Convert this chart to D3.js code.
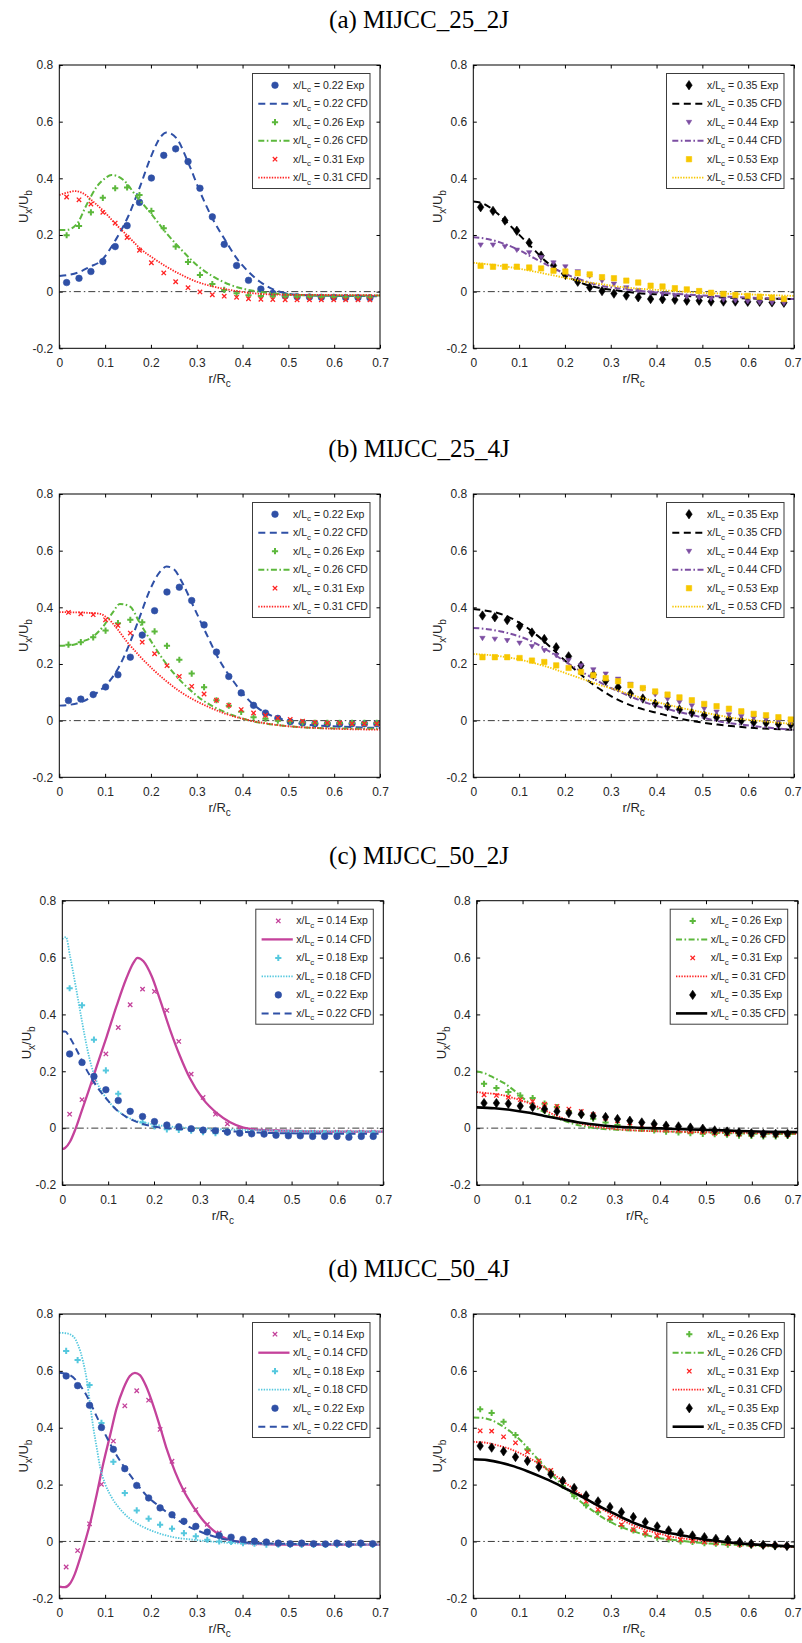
<!DOCTYPE html>
<html>
<head>
<meta charset="utf-8">
<script src="https://cdn.jsdelivr.net/npm/d3@7"></script>
<style>
  html, body { margin: 0; padding: 0; background: #fff; }
  svg { display: block; }
</style>
</head>
<body>
<svg id="fig" width="802" height="1643"></svg>
<script>
// ---------- axis ticks ----------
const xTicks = [0, 0.1, 0.2, 0.3, 0.4, 0.5, 0.6, 0.7];
const yTicks = [-0.2, 0, 0.2, 0.4, 0.6, 0.8];

// ---------- titles ----------
const rowTitles = ["(a) MIJCC_25_2J", "(b) MIJCC_25_4J", "(c) MIJCC_50_2J", "(d) MIJCC_50_4J"];

// ---------- measurement radii r/Rc ----------
const rGridA = [0.016, 0.043, 0.069, 0.095, 0.122, 0.148, 0.175, 0.201, 0.228, 0.254, 0.281, 0.307, 0.334,
                0.360, 0.387, 0.413, 0.440, 0.466, 0.493, 0.519, 0.546, 0.572, 0.599, 0.625, 0.652, 0.678];
const rGridB = [0.020, 0.047, 0.074, 0.101, 0.128, 0.155, 0.181, 0.208, 0.235, 0.262, 0.289, 0.316, 0.343,
                0.370, 0.397, 0.424, 0.450, 0.477, 0.504, 0.531, 0.558, 0.585, 0.612, 0.639, 0.666, 0.693];
const rGridD = [0.015, 0.040, 0.066, 0.092, 0.118, 0.143, 0.169, 0.195, 0.220, 0.246, 0.272, 0.298, 0.323, 0.349,
                0.375, 0.401, 0.426, 0.452, 0.478, 0.504, 0.529, 0.555, 0.581, 0.606, 0.632, 0.658, 0.684];

// ---------- (a) MIJCC_25_2J ----------
const a1Exp022 = [0.032, 0.047, 0.071, 0.106, 0.159, 0.233, 0.315, 0.401, 0.481, 0.504, 0.459, 0.365, 0.264,
                  0.167, 0.092, 0.040, 0.009, -0.006, -0.015, -0.018, -0.019, -0.020, -0.020, -0.021, -0.021, -0.022];
const a1Exp026 = [0.199, 0.232, 0.280, 0.331, 0.365, 0.368, 0.341, 0.285, 0.224, 0.159, 0.105, 0.059, 0.027,
                  0.006, -0.006, -0.013, -0.015, -0.016, -0.017, -0.018, -0.018, -0.019, -0.019, -0.020, -0.020, -0.020];
const a1Exp031 = [0.334, 0.324, 0.309, 0.280, 0.242, 0.191, 0.146, 0.102, 0.066, 0.035, 0.014, -0.001, -0.011,
                  -0.016, -0.020, -0.025, -0.027, -0.028, -0.029, -0.029, -0.029, -0.029, -0.029, -0.029, -0.029, -0.029];
const a1Cfd022 = [[0,0.055],[0.045,0.070],[0.067,0.088],[0.089,0.106],[0.125,0.188],[0.151,0.268],[0.176,0.370],
                  [0.200,0.476],[0.222,0.548],[0.234,0.562],[0.256,0.541],[0.282,0.453],[0.307,0.353],[0.336,0.253],
                  [0.362,0.182],[0.387,0.118],[0.413,0.070],[0.438,0.035],[0.467,0.008],[0.496,-0.006],[0.525,-0.012],
                  [0.600,-0.015],[0.700,-0.016]];
const a1Cfd026 = [[0,0.218],[0.016,0.218],[0.038,0.238],[0.060,0.308],[0.082,0.371],[0.100,0.400],[0.114,0.412],
                  [0.140,0.394],[0.169,0.335],[0.200,0.276],[0.234,0.206],[0.267,0.147],[0.300,0.094],[0.336,0.053],
                  [0.373,0.024],[0.413,0.006],[0.453,-0.004],[0.504,-0.011],[0.600,-0.014],[0.700,-0.014]];
const a1Cfd031 = [[0,0.341],[0.016,0.349],[0.034,0.355],[0.052,0.347],[0.074,0.318],[0.100,0.279],[0.125,0.235],
                  [0.151,0.194],[0.176,0.153],[0.205,0.118],[0.234,0.088],[0.267,0.059],[0.300,0.035],[0.336,0.018],
                  [0.380,0.004],[0.424,-0.006],[0.490,-0.011],[0.600,-0.012],[0.700,-0.013]];

const a2Exp035 = [0.298, 0.285, 0.251, 0.215, 0.173, 0.127, 0.092, 0.059, 0.035, 0.015, 0.002, -0.007, -0.014,
                  -0.020, -0.026, -0.027, -0.029, -0.032, -0.032, -0.035, -0.035, -0.035, -0.036, -0.036, -0.038, -0.039];
const a2Exp044 = [0.165, 0.165, 0.159, 0.147, 0.138, 0.121, 0.102, 0.088, 0.071, 0.055, 0.038, 0.027, 0.014,
                  0.004, -0.004, -0.008, -0.013, -0.018, -0.021, -0.025, -0.029, -0.032, -0.035, -0.038, -0.039, -0.041];
const a2Exp053 = [0.091, 0.088, 0.088, 0.088, 0.085, 0.082, 0.074, 0.071, 0.065, 0.061, 0.051, 0.047, 0.039,
                  0.032, 0.021, 0.018, 0.012, 0.008, 0.002, -0.004, -0.008, -0.012, -0.015, -0.018, -0.021, -0.026];
const a2Cfd035 = [[0,0.318],[0.017,0.314],[0.039,0.294],[0.068,0.253],[0.097,0.206],[0.126,0.159],[0.155,0.112],
                  [0.184,0.074],[0.213,0.047],[0.242,0.027],[0.278,0.012],[0.315,0.004],[0.351,-0.004],[0.395,-0.009],
                  [0.460,-0.015],[0.533,-0.020],[0.605,-0.024],[0.700,-0.026]];
const a2Cfd044 = [[0,0.192],[0.024,0.188],[0.060,0.173],[0.097,0.149],[0.133,0.118],[0.169,0.088],[0.206,0.059],
                  [0.242,0.038],[0.278,0.021],[0.315,0.012],[0.366,0.002],[0.424,-0.006],[0.496,-0.013],[0.569,-0.019],
                  [0.700,-0.026]];
const a2Cfd053 = [[0,0.102],[0.024,0.098],[0.060,0.091],[0.097,0.082],[0.133,0.071],[0.169,0.059],[0.206,0.047],
                  [0.242,0.035],[0.278,0.027],[0.315,0.018],[0.351,0.012],[0.424,0.004],[0.496,-0.004],[0.569,-0.008],
                  [0.700,-0.015]];

// ---------- (b) MIJCC_25_4J ----------
const b1Exp022 = [0.071, 0.076, 0.092, 0.119, 0.162, 0.224, 0.302, 0.388, 0.454, 0.471, 0.424, 0.338, 0.242,
                  0.156, 0.098, 0.054, 0.027, 0.008, -0.004, -0.008, -0.011, -0.012, -0.012, -0.011, -0.011, -0.011];
const b1Exp026 = [0.268, 0.277, 0.294, 0.318, 0.344, 0.356, 0.347, 0.315, 0.264, 0.215, 0.166, 0.118, 0.072,
                  0.053, 0.031, 0.012, 0.007, 0.000, -0.002, -0.006, -0.008, -0.008, -0.008, -0.008, -0.008, -0.008];
const b1Exp031 = [0.382, 0.377, 0.374, 0.356, 0.336, 0.309, 0.277, 0.236, 0.194, 0.156, 0.121, 0.094, 0.072,
                  0.054, 0.039, 0.027, 0.019, 0.009, 0.004, -0.002, -0.006, -0.008, -0.008, -0.011, -0.011, -0.011];
const b1Cfd022 = [[0,0.053],[0.023,0.056],[0.052,0.068],[0.082,0.098],[0.103,0.127],[0.129,0.186],[0.154,0.274],
                  [0.176,0.368],[0.198,0.462],[0.220,0.526],[0.234,0.544],[0.249,0.536],[0.271,0.479],[0.293,0.403],
                  [0.322,0.303],[0.351,0.209],[0.380,0.139],[0.409,0.080],[0.438,0.039],[0.467,0.015],[0.503,-0.002],
                  [0.540,-0.014],[0.598,-0.020],[0.700,-0.026]];
const b1Cfd026 = [[0,0.264],[0.031,0.268],[0.052,0.280],[0.074,0.297],[0.096,0.333],[0.118,0.385],[0.132,0.412],
                  [0.154,0.403],[0.176,0.344],[0.198,0.286],[0.227,0.215],[0.256,0.156],[0.285,0.109],[0.314,0.071],
                  [0.344,0.043],[0.380,0.018],[0.416,0.000],[0.453,-0.011],[0.503,-0.020],[0.562,-0.026],[0.700,-0.029]];
const b1Cfd031 = [[0,0.383],[0.038,0.382],[0.067,0.380],[0.089,0.377],[0.103,0.365],[0.125,0.327],[0.147,0.280],
                  [0.176,0.227],[0.205,0.180],[0.234,0.139],[0.263,0.103],[0.293,0.074],[0.322,0.051],[0.358,0.027],
                  [0.394,0.009],[0.438,-0.006],[0.489,-0.018],[0.562,-0.026],[0.700,-0.032]];

const b2Exp035 = [0.371, 0.365, 0.355, 0.333, 0.311, 0.288, 0.259, 0.227, 0.194, 0.162, 0.141, 0.118, 0.095,
                  0.078, 0.060, 0.051, 0.039, 0.027, 0.019, 0.012, 0.006, 0.000, -0.006, -0.008, -0.012, -0.014];
const b2Exp044 = [0.291, 0.288, 0.283, 0.274, 0.262, 0.248, 0.230, 0.213, 0.194, 0.180, 0.165, 0.147, 0.129,
                  0.112, 0.092, 0.076, 0.065, 0.053, 0.042, 0.031, 0.021, 0.015, 0.009, 0.004, -0.002, -0.006];
const b2Exp053 = [0.224, 0.224, 0.224, 0.221, 0.212, 0.207, 0.195, 0.186, 0.172, 0.160, 0.150, 0.139, 0.125,
                  0.115, 0.103, 0.092, 0.082, 0.072, 0.059, 0.051, 0.042, 0.033, 0.024, 0.019, 0.012, 0.004];
const b2Cfd035 = [[0,0.394],[0.024,0.389],[0.053,0.380],[0.082,0.362],[0.111,0.335],[0.140,0.300],[0.169,0.259],
                  [0.198,0.215],[0.228,0.172],[0.257,0.133],[0.286,0.101],[0.315,0.074],[0.344,0.054],[0.373,0.039],
                  [0.402,0.027],[0.431,0.015],[0.460,0.004],[0.496,-0.006],[0.533,-0.014],[0.569,-0.020],[0.613,-0.026],
                  [0.700,-0.032]];
const b2Cfd044 = [[0,0.327],[0.031,0.323],[0.060,0.315],[0.089,0.303],[0.119,0.286],[0.148,0.262],[0.177,0.233],
                  [0.206,0.203],[0.235,0.174],[0.264,0.147],[0.293,0.121],[0.322,0.100],[0.351,0.080],[0.380,0.062],
                  [0.409,0.048],[0.438,0.035],[0.475,0.021],[0.511,0.007],[0.547,-0.006],[0.584,-0.014],[0.627,-0.022],
                  [0.700,-0.032]];
const b2Cfd053 = [[0,0.235],[0.024,0.233],[0.060,0.227],[0.097,0.217],[0.133,0.203],[0.169,0.186],[0.206,0.165],
                  [0.242,0.145],[0.278,0.125],[0.315,0.107],[0.351,0.088],[0.387,0.072],[0.424,0.056],[0.460,0.043],
                  [0.496,0.031],[0.533,0.019],[0.569,0.009],[0.613,0.001],[0.656,-0.006],[0.700,-0.012]];

// ---------- (c) MIJCC_50_2J ----------
const c1Exp014 = [0.049, 0.100, 0.162, 0.261, 0.354, 0.434, 0.489, 0.481, 0.414, 0.305, 0.190, 0.108, 0.049,
                  0.015, -0.003, -0.008, -0.010, -0.012, -0.013, -0.014, -0.014, -0.014, -0.014, -0.014, -0.014, -0.014];
const c1Exp018 = [0.492, 0.432, 0.311, 0.203, 0.121, 0.060, 0.020, 0.006, -0.004, -0.006, -0.009, -0.014, -0.018,
                  -0.016, -0.016, -0.017, -0.017, -0.018, -0.018, -0.018, -0.018, -0.018, -0.018, -0.018, -0.018, -0.018];
const c1Exp022 = [0.261, 0.231, 0.182, 0.135, 0.097, 0.059, 0.041, 0.023, 0.011, 0.005, -0.002, -0.007, -0.009,
                  -0.014, -0.018, -0.020, -0.021, -0.025, -0.027, -0.027, -0.029, -0.029, -0.029, -0.032, -0.029, -0.029];
const c1Cfd014 = [[0,-0.074],[0.006,-0.070],[0.017,-0.047],[0.028,-0.006],[0.042,0.059],[0.057,0.129],[0.075,0.217],
                  [0.097,0.323],[0.118,0.428],[0.140,0.528],[0.155,0.581],[0.164,0.599],[0.177,0.587],[0.195,0.534],
                  [0.213,0.452],[0.235,0.346],[0.257,0.252],[0.278,0.176],[0.307,0.102],[0.337,0.053],[0.366,0.021],
                  [0.395,0.002],[0.431,-0.006],[0.482,-0.009],[0.555,-0.012],[0.700,-0.012]];
const c1Cfd018 = [[0,0.665],[0.008,0.672],[0.017,0.604],[0.028,0.510],[0.039,0.411],[0.049,0.323],[0.060,0.240],
                  [0.075,0.164],[0.093,0.112],[0.111,0.076],[0.133,0.047],[0.155,0.029],[0.184,0.018],[0.220,0.008],
                  [0.264,0.002],[0.315,-0.002],[0.387,-0.006],[0.700,-0.012]];
const c1Cfd022 = [[0,0.340],[0.006,0.340],[0.017,0.317],[0.031,0.276],[0.053,0.205],[0.075,0.147],[0.097,0.102],
                  [0.118,0.065],[0.140,0.039],[0.169,0.018],[0.198,0.006],[0.242,-0.002],[0.300,-0.006],[0.373,-0.012],
                  [0.482,-0.018],[0.700,-0.020]];

const c2Exp026 = [0.156, 0.141, 0.127, 0.115, 0.106, 0.086, 0.074, 0.059, 0.047, 0.033, 0.020, 0.011, 0.004,
                  -0.002, -0.008, -0.012, -0.015, -0.018, -0.020, -0.021, -0.023, -0.026, -0.027, -0.029, -0.029, -0.027];
const c2Exp031 = [0.117, 0.115, 0.109, 0.100, 0.094, 0.084, 0.076, 0.067, 0.059, 0.047, 0.035, 0.026, 0.018,
                  0.009, 0.002, -0.002, -0.006, -0.012, -0.014, -0.018, -0.020, -0.021, -0.021, -0.023, -0.023, -0.023];
const c2Exp035 = [0.088, 0.088, 0.086, 0.078, 0.074, 0.067, 0.059, 0.053, 0.049, 0.043, 0.039, 0.032, 0.026,
                  0.020, 0.015, 0.009, 0.006, 0.002, -0.002, -0.008, -0.012, -0.015, -0.018, -0.020, -0.020, -0.020];
const c2Cfd026 = [[0,0.199],[0.017,0.193],[0.039,0.176],[0.060,0.158],[0.082,0.132],[0.104,0.102],[0.126,0.076],
                  [0.148,0.055],[0.169,0.039],[0.191,0.026],[0.213,0.014],[0.242,0.004],[0.271,-0.002],[0.307,-0.006],
                  [0.358,-0.009],[0.417,-0.012],[0.489,-0.015],[0.562,-0.018],[0.700,-0.021]];
const c2Cfd031 = [[0,0.127],[0.024,0.123],[0.053,0.117],[0.082,0.105],[0.111,0.090],[0.140,0.070],[0.169,0.047],
                  [0.198,0.029],[0.228,0.015],[0.257,0.006],[0.293,-0.002],[0.344,-0.008],[0.417,-0.012],[0.526,-0.015],
                  [0.700,-0.020]];
const c2Cfd035 = [[0,0.073],[0.039,0.070],[0.075,0.064],[0.111,0.055],[0.148,0.043],[0.184,0.032],[0.220,0.021],
                  [0.257,0.013],[0.300,0.006],[0.344,0.002],[0.402,-0.001],[0.467,-0.005],[0.540,-0.008],[0.613,-0.012],
                  [0.700,-0.014]];

// ---------- (d) MIJCC_50_4J ----------
const d1Exp014 = [-0.090, -0.032, 0.062, 0.201, 0.353, 0.477, 0.530, 0.497, 0.394, 0.282, 0.182, 0.112, 0.060, 0.030,
                  0.010, -0.002, -0.006, -0.008, -0.009, -0.010, -0.010, -0.010, -0.010, -0.009, -0.009, -0.008, -0.008];
const d1Exp018 = [0.670, 0.638, 0.550, 0.417, 0.280, 0.170, 0.109, 0.080, 0.059, 0.045, 0.029, 0.018, 0.006, 0.000,
                  -0.002, -0.006, -0.008, -0.011, -0.011, -0.012, -0.012, -0.012, -0.012, -0.012, -0.012, -0.012, -0.012];
const d1Exp022 = [0.582, 0.548, 0.479, 0.401, 0.324, 0.256, 0.197, 0.153, 0.118, 0.094, 0.071, 0.053, 0.033, 0.021,
                  0.015, 0.007, 0.001, -0.002, -0.006, -0.008, -0.006, -0.008, -0.009, -0.006, -0.009, -0.006, -0.008];
const d1Cfd014 = [[0,-0.159],[0.012,-0.161],[0.023,-0.149],[0.034,-0.114],[0.045,-0.061],[0.056,-0.002],[0.067,0.062],
                  [0.082,0.168],[0.096,0.274],[0.111,0.374],[0.125,0.468],[0.140,0.538],[0.154,0.582],[0.165,0.593],
                  [0.176,0.585],[0.190,0.544],[0.205,0.479],[0.220,0.403],[0.234,0.327],[0.253,0.244],[0.271,0.180],
                  [0.293,0.121],[0.314,0.074],[0.336,0.039],[0.358,0.015],[0.387,0.000],[0.424,-0.008],[0.489,-0.011],
                  [0.700,-0.011]];
const d1Cfd018 = [[0,0.734],[0.016,0.732],[0.031,0.720],[0.041,0.691],[0.052,0.632],[0.060,0.568],[0.067,0.485],
                  [0.074,0.403],[0.082,0.327],[0.089,0.262],[0.100,0.203],[0.114,0.156],[0.132,0.115],[0.154,0.080],
                  [0.183,0.051],[0.213,0.031],[0.249,0.015],[0.293,0.006],[0.344,-0.002],[0.416,-0.008],[0.700,-0.011]];
const d1Cfd022 = [[0,0.593],[0.023,0.585],[0.045,0.550],[0.063,0.503],[0.082,0.438],[0.103,0.368],[0.125,0.303],
                  [0.147,0.250],[0.169,0.203],[0.190,0.162],[0.220,0.121],[0.249,0.086],[0.278,0.056],[0.307,0.035],
                  [0.336,0.018],[0.373,0.004],[0.416,-0.005],[0.489,-0.008],[0.700,-0.011]];

const d2Exp026 = [0.465, 0.452, 0.421, 0.374, 0.324, 0.280, 0.245, 0.195, 0.159, 0.127, 0.103, 0.076, 0.054, 0.039,
                  0.025, 0.013, 0.007, 0.000, -0.002, -0.006, -0.008, -0.011, -0.012, -0.014, -0.016, -0.018, -0.018];
const d2Exp031 = [0.389, 0.388, 0.368, 0.347, 0.315, 0.283, 0.250, 0.213, 0.177, 0.141, 0.112, 0.083, 0.059, 0.041,
                  0.029, 0.020, 0.012, 0.006, 0.001, -0.002, -0.006, -0.008, -0.011, -0.012, -0.014, -0.014, -0.016];
const d2Exp035 = [0.336, 0.330, 0.317, 0.297, 0.283, 0.262, 0.236, 0.213, 0.188, 0.162, 0.141, 0.121, 0.103, 0.086,
                  0.068, 0.053, 0.039, 0.031, 0.021, 0.015, 0.009, 0.006, -0.002, -0.008, -0.012, -0.014, -0.016];
const d2Cfd026 = [[0,0.436],[0.017,0.435],[0.039,0.427],[0.060,0.409],[0.082,0.385],[0.104,0.354],[0.126,0.315],
                  [0.148,0.276],[0.169,0.239],[0.191,0.203],[0.213,0.170],[0.235,0.139],[0.257,0.112],[0.278,0.088],
                  [0.307,0.062],[0.337,0.042],[0.366,0.027],[0.402,0.013],[0.446,0.004],[0.496,-0.005],[0.569,-0.012],
                  [0.700,-0.020]];
const d2Cfd031 = [[0,0.350],[0.024,0.348],[0.053,0.338],[0.082,0.324],[0.111,0.303],[0.140,0.276],[0.169,0.244],
                  [0.198,0.209],[0.228,0.174],[0.257,0.139],[0.286,0.109],[0.315,0.083],[0.344,0.060],[0.373,0.042],
                  [0.402,0.029],[0.438,0.015],[0.482,0.006],[0.533,-0.002],[0.605,-0.011],[0.700,-0.020]];
const d2Cfd035 = [[0,0.289],[0.031,0.286],[0.060,0.277],[0.089,0.264],[0.118,0.247],[0.148,0.227],[0.177,0.206],
                  [0.206,0.182],[0.235,0.159],[0.264,0.133],[0.293,0.109],[0.322,0.086],[0.351,0.065],[0.380,0.048],
                  [0.409,0.035],[0.446,0.024],[0.482,0.013],[0.518,0.004],[0.569,-0.005],[0.627,-0.012],[0.700,-0.018]];

// ---------- styling ----------
const COLORS = {
  blue: "#2f50a6", green: "#5cb83c", red: "#ff2424", black: "#000000",
  purple: "#7c4ea2", yellow: "#f7c700", magenta: "#c4429b", cyan: "#55c8de"
};
const LINE_STYLES = {
  dashed:  { width: 2.0, dash: "7,4.5" },
  dashdot: { width: 2.0, dash: "6,2.5,1.6,2.5" },
  dotted:  { width: 1.8, dash: "1.4,1.3" },
  solid:   { width: 2.3, dash: null },
  solidBold: { width: 2.6, dash: null }
};
const MARKERS = {
  circle:  { d: "M3.3,0A3.3,3.3,0,1,1,-3.3,0A3.3,3.3,0,1,1,3.3,0Z", fill: true },
  plus:    { d: "M-3.1,0H3.1M0,-3.1V3.1", fill: false, width: 2.0 },
  cross:   { d: "M-2.2,-2.2L2.2,2.2M-2.2,2.2L2.2,-2.2", fill: false, width: 1.3 },
  diamond: { d: "M0,-4.7L3.2,0L0,4.7L-3.2,0Z", fill: true },
  tri:     { d: "M-2.7,-1.9L2.7,-1.9L0,2.5Z", fill: true },
  square:  { d: "M-2.7,-2.7H2.7V2.7H-2.7Z", fill: true }
};

// ---------- panel frames ----------
const W = 802;
const frames = [
  { key: "a1", left: 59.3,  right: 380,   top: 65,    bottom: 348.3 },
  { key: "a2", left: 473.3, right: 794,   top: 65,    bottom: 348.3 },
  { key: "b1", left: 59.3,  right: 380,   top: 494,   bottom: 777.3 },
  { key: "b2", left: 473.3, right: 794,   top: 494,   bottom: 777.3 },
  { key: "c1", left: 62.3,  right: 383.3, top: 900.7, bottom: 1185 },
  { key: "c2", left: 476.7, right: 797.7, top: 900.7, bottom: 1185 },
  { key: "d1", left: 59.3,  right: 380,   top: 1314,  bottom: 1598.3 },
  { key: "d2", left: 473.3, right: 794.3, top: 1314,  bottom: 1598.3 }
];

const exp = (station, r, u, color, marker) => ({ kind: "exp", station, r, u, color, marker });
const cfd = (station, pts, color, style) => ({ kind: "cfd", station, pts, color, style });

const panelSeries = {
  a1: [exp("0.22", rGridA, a1Exp022, "blue", "circle"), cfd("0.22", a1Cfd022, "blue", "dashed"),
       exp("0.26", rGridA, a1Exp026, "green", "plus"),  cfd("0.26", a1Cfd026, "green", "dashdot"),
       exp("0.31", rGridA, a1Exp031, "red", "cross"),   cfd("0.31", a1Cfd031, "red", "dotted")],
  a2: [exp("0.35", rGridA, a2Exp035, "black", "diamond"), cfd("0.35", a2Cfd035, "black", "dashed"),
       exp("0.44", rGridA, a2Exp044, "purple", "tri"),    cfd("0.44", a2Cfd044, "purple", "dashdot"),
       exp("0.53", rGridA, a2Exp053, "yellow", "square"), cfd("0.53", a2Cfd053, "yellow", "dotted")],
  b1: [exp("0.22", rGridB, b1Exp022, "blue", "circle"), cfd("0.22", b1Cfd022, "blue", "dashed"),
       exp("0.26", rGridB, b1Exp026, "green", "plus"),  cfd("0.26", b1Cfd026, "green", "dashdot"),
       exp("0.31", rGridB, b1Exp031, "red", "cross"),   cfd("0.31", b1Cfd031, "red", "dotted")],
  b2: [exp("0.35", rGridB, b2Exp035, "black", "diamond"), cfd("0.35", b2Cfd035, "black", "dashed"),
       exp("0.44", rGridB, b2Exp044, "purple", "tri"),    cfd("0.44", b2Cfd044, "purple", "dashdot"),
       exp("0.53", rGridB, b2Exp053, "yellow", "square"), cfd("0.53", b2Cfd053, "yellow", "dotted")],
  c1: [exp("0.14", rGridA, c1Exp014, "magenta", "cross"), cfd("0.14", c1Cfd014, "magenta", "solid"),
       exp("0.18", rGridA, c1Exp018, "cyan", "plus"),     cfd("0.18", c1Cfd018, "cyan", "dotted"),
       exp("0.22", rGridA, c1Exp022, "blue", "circle"),   cfd("0.22", c1Cfd022, "blue", "dashed")],
  c2: [exp("0.26", rGridA, c2Exp026, "green", "plus"),    cfd("0.26", c2Cfd026, "green", "dashdot"),
       exp("0.31", rGridA, c2Exp031, "red", "cross"),     cfd("0.31", c2Cfd031, "red", "dotted"),
       exp("0.35", rGridA, c2Exp035, "black", "diamond"), cfd("0.35", c2Cfd035, "black", "solidBold")],
  d1: [exp("0.14", rGridD, d1Exp014, "magenta", "cross"), cfd("0.14", d1Cfd014, "magenta", "solid"),
       exp("0.18", rGridD, d1Exp018, "cyan", "plus"),     cfd("0.18", d1Cfd018, "cyan", "dotted"),
       exp("0.22", rGridD, d1Exp022, "blue", "circle"),   cfd("0.22", d1Cfd022, "blue", "dashed")],
  d2: [exp("0.26", rGridD, d2Exp026, "green", "plus"),    cfd("0.26", d2Cfd026, "green", "dashdot"),
       exp("0.31", rGridD, d2Exp031, "red", "cross"),     cfd("0.31", d2Cfd031, "red", "dotted"),
       exp("0.35", rGridD, d2Exp035, "black", "diamond"), cfd("0.35", d2Cfd035, "black", "solidBold")]
};

// ---------- drawing ----------
const SANS = "'Liberation Sans', Arial, Helvetica, sans-serif";
const SERIF = "'Liberation Serif', 'Times New Roman', Times, serif";
const TXT = "#262626";
const svg = d3.select("#fig");
svg.append("rect").attr("width", W).attr("height", 1643).attr("fill", "#fff");
const defs = svg.append("defs");

const tickFmt = d => String(Math.round(d * 10) / 10);

function drawMarker(sel, kind, color) {
  const m = MARKERS[kind];
  sel.attr("d", m.d)
     .attr("fill", m.fill ? color : "none")
     .attr("stroke", color)
     .attr("stroke-width", m.fill ? 0.6 : m.width);
}

function styleLine(sel, style, color) {
  const s = LINE_STYLES[style];
  sel.attr("fill", "none").attr("stroke", color).attr("stroke-width", s.width);
  if (s.dash) sel.attr("stroke-dasharray", s.dash);
}

function drawPanel(f) {
  const x = d3.scaleLinear().domain([0, 0.7]).range([f.left, f.right]);
  const y = d3.scaleLinear().domain([-0.2, 0.8]).range([f.bottom, f.top]);
  const g = svg.append("g").attr("class", "panel-" + f.key);

  defs.append("clipPath").attr("id", "clip-" + f.key)
    .append("rect").attr("x", f.left).attr("y", f.top)
    .attr("width", f.right - f.left).attr("height", f.bottom - f.top);

  // axes with inward ticks on all four sides
  const styleAxis = a => {
    a.select(".domain").remove();
    a.selectAll(".tick line").attr("stroke", "#000").attr("stroke-width", 1);
    a.selectAll("text").attr("fill", TXT).style("font-family", SANS).style("font-size", "12px");
  };
  const xAxisG = g.append("g").attr("transform", `translate(0,${f.bottom})`)
    .call(d3.axisBottom(x).tickValues(xTicks).tickFormat(tickFmt).tickSize(-3.5).tickPadding(10.5)).call(styleAxis);
  // keep the last tick label inside the page edge
  xAxisG.selectAll(".tick text").each(function (d) {
    const half = this.getComputedTextLength() / 2;
    const over = x(d) + half - (W - 1);
    if (over > 0) d3.select(this).attr("dx", -over);
  });
  g.append("g").attr("transform", `translate(0,${f.top})`)
    .call(d3.axisTop(x).tickValues(xTicks).tickFormat("").tickSize(-3.5)).call(styleAxis);
  g.append("g").attr("transform", `translate(${f.left},0)`)
    .call(d3.axisLeft(y).tickValues(yTicks).tickFormat(tickFmt).tickSize(-3.5).tickPadding(6)).call(styleAxis);
  g.append("g").attr("transform", `translate(${f.right},0)`)
    .call(d3.axisRight(y).tickValues(yTicks).tickFormat("").tickSize(-3.5)).call(styleAxis);

  // axis titles
  const xl = g.append("text").attr("x", (f.left + f.right) / 2).attr("y", f.bottom + 35)
    .attr("text-anchor", "middle").attr("fill", TXT)
    .style("font-family", SANS).style("font-size", "13px");
  xl.append("tspan").text("r/R");
  xl.append("tspan").attr("dy", 4).style("font-size", "10px").text("c");

  const yl = g.append("text")
    .attr("transform", `translate(${f.left - 31},${(f.top + f.bottom) / 2}) rotate(-90)`)
    .attr("text-anchor", "middle").attr("fill", TXT)
    .style("font-family", SANS).style("font-size", "13px");
  yl.append("tspan").text("U");
  yl.append("tspan").attr("dy", 4).style("font-size", "10px").text("x");
  yl.append("tspan").attr("dy", -4).text("/U");
  yl.append("tspan").attr("dy", 4).style("font-size", "10px").text("b");

  const plot = g.append("g").attr("clip-path", `url(#clip-${f.key})`);

  // zero reference line
  plot.append("line")
    .attr("x1", x(0)).attr("x2", x(0.7)).attr("y1", y(0)).attr("y2", y(0))
    .attr("stroke", "#3a3a3a").attr("stroke-width", 1).attr("stroke-dasharray", "7,3,1.5,3");

  const lineGen = d3.line().x(d => x(d[0])).y(d => y(d[1])).curve(d3.curveMonotoneX);

  panelSeries[f.key].forEach(s => {
    const color = COLORS[s.color];
    if (s.kind === "cfd") {
      plot.append("path").datum(s.pts).attr("d", lineGen).call(styleLine, s.style, color);
    } else {
      const pts = s.u.map((v, i) => [s.r[i], v]).filter(p => p[0] !== undefined);
      plot.append("g").selectAll("path").data(pts).join("path")
        .attr("transform", d => `translate(${x(d[0])},${y(d[1])})`)
        .call(drawMarker, s.marker, color);
    }
  });

  // frame
  g.append("rect").attr("x", f.left).attr("y", f.top)
    .attr("width", f.right - f.left).attr("height", f.bottom - f.top)
    .attr("fill", "none").attr("stroke", "#000").attr("stroke-width", 1);

  // legend box in the upper right corner
  const lw = 117.5, lh = 115, rowH = 18.5;
  const lx = f.right - 10 - lw, ly = f.top + 8.5;
  const lg = g.append("g").attr("transform", `translate(${lx},${ly})`);
  lg.append("rect").attr("width", lw).attr("height", lh)
    .attr("fill", "#fff").attr("stroke", "#3c3c3c").attr("stroke-width", 1);
  panelSeries[f.key].forEach((s, i) => {
    const cy = 11.7 + i * rowH;
    const color = COLORS[s.color];
    if (s.kind === "cfd") {
      lg.append("path").attr("d", `M5.8,${cy}H37`).call(styleLine, s.style, color);
    } else {
      lg.append("path").attr("transform", `translate(22.5,${cy})`).call(drawMarker, s.marker, color);
    }
    const t = lg.append("text").attr("x", 40.5).attr("y", cy + 3.6).attr("fill", TXT)
      .style("font-family", SANS).style("font-size", "10.5px");
    t.append("tspan").text("x/L");
    t.append("tspan").attr("dy", 3.5).style("font-size", "8px").text("c");
    t.append("tspan").attr("dy", -3.5).text(` = ${s.station} ${s.kind === "cfd" ? "CFD" : "Exp"}`);
  });
}

frames.forEach(drawPanel);

// row titles
[0, 2, 4, 6].forEach((fi, i) => {
  svg.append("text").attr("x", 419).attr("y", frames[fi].top - 37)
    .attr("text-anchor", "middle").attr("fill", "#000")
    .style("font-family", SERIF).style("font-size", "25px")
    .text(rowTitles[i]);
});
</script>
</body>
</html>
